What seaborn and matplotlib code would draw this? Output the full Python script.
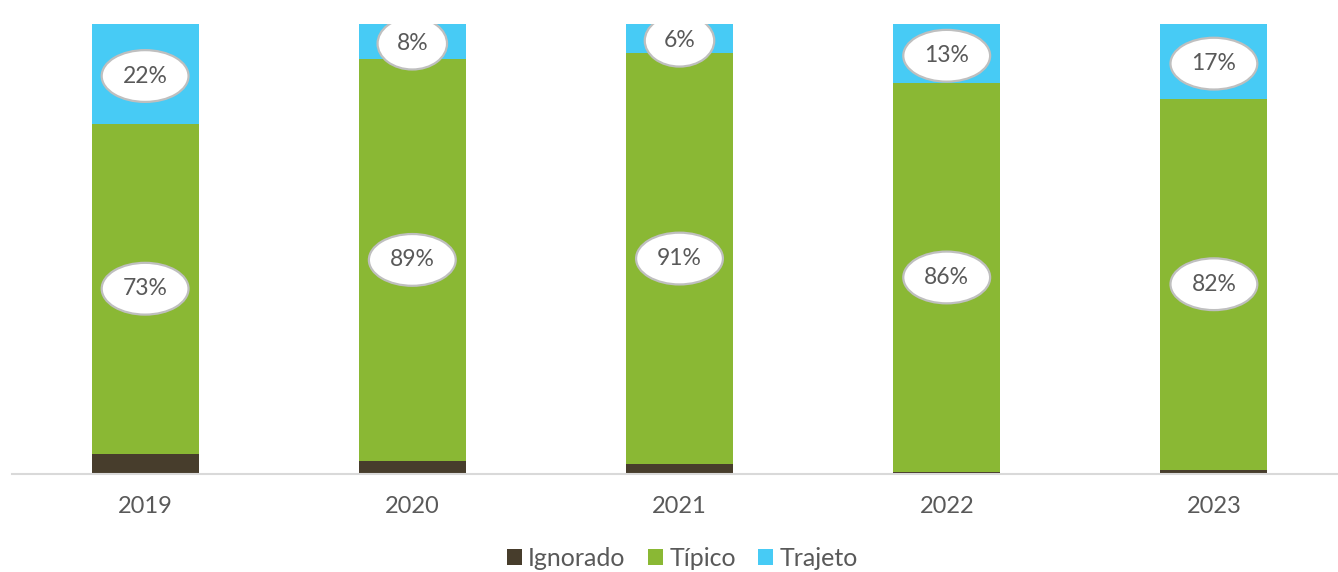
import matplotlib
matplotlib.use("Agg")
import matplotlib.pyplot as plt
from matplotlib.patches import Ellipse, Patch
import numpy as np
import pandas as pd
import seaborn as sns

years = ["2019", "2020", "2021", "2022", "2023"]
ignorado = [4.5, 2.9, 2.2, 0.5, 1.0]
tipico = [73.4, 89.4, 91.4, 86.4, 82.4]
trajeto = [22.1, 7.7, 6.4, 13.1, 16.6]

series_names = ["Ignorado", "Típico", "Trajeto"]
colors = {"Ignorado": "#473D2C", "Típico": "#8AB834", "Trajeto": "#47CBF5"}
text_color = "#595959"

sns.set_theme(style="white")
plt.rcParams["font.family"] = ["Lato", "DejaVu Sans"]

df = pd.DataFrame({"ano": years, "Ignorado": ignorado, "Típico": tipico, "Trajeto": trajeto})
df["c_ign"] = df["Ignorado"]
df["c_tip"] = df["c_ign"] + df["Típico"]
df["c_tra"] = df["c_tip"] + df["Trajeto"]

fig = plt.figure(figsize=(13.38, 5.72), dpi=100)
ax = fig.add_axes([0.0086, 0.171, 0.9985, 0.787])

# stacked bars: draw cumulative totals back to front
for col, name in [("c_tra", "Trajeto"), ("c_tip", "Típico"), ("c_ign", "Ignorado")]:
    sns.barplot(data=df, x="ano", y=col, color=colors[name], width=0.4,
                saturation=1, ax=ax, linewidth=0)

ax.set_xlim(-0.5, 4.5)
ax.set_ylim(0, 100)

# percentage labels inside ellipses sized to the text
def label(x, y, value):
    txt = f"{value:.0f}%"
    w = 0.13 + 0.065 * len(txt)
    e = Ellipse((x, y), width=w, height=11.5, facecolor="white",
                edgecolor="#BFBFBF", linewidth=1.6, zorder=5)
    ax.add_patch(e)
    ax.text(x, y, txt, ha="center", va="center", fontsize=16.5,
            color=text_color, zorder=6)

for i in range(len(years)):
    label(i, (df["c_ign"][i] + df["c_tip"][i]) / 2, tipico[i])
    label(i, (df["c_tip"][i] + df["c_tra"][i]) / 2 - 0.5, trajeto[i])

ax.set_xlabel("")
ax.set_ylabel("")
ax.set_yticks([])
ax.tick_params(axis="x", length=0, pad=16, labelsize=17, labelcolor=text_color)
for s in ["top", "right", "left"]:
    ax.spines[s].set_visible(False)
ax.spines["bottom"].set_color("#D9D9D9")
ax.spines["bottom"].set_linewidth(1.5)

handles = [Patch(facecolor=colors[n], edgecolor="none") for n in series_names]
leg = fig.legend(handles, series_names, loc="center", bbox_to_anchor=(0.51, 0.024),
                 ncol=3, frameon=False, fontsize=18, handlelength=0.6,
                 handleheight=0.6, handletextpad=0.25, columnspacing=0.9)
for t in leg.get_texts():
    t.set_color(text_color)

fig.savefig("out.png", dpi=100)
